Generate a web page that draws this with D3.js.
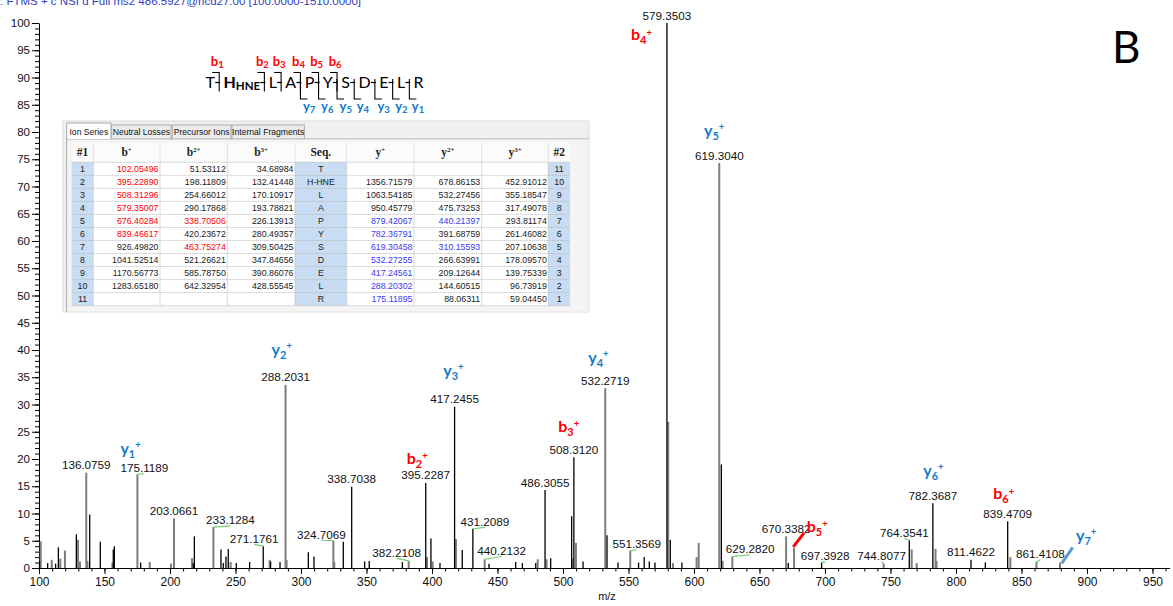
<!DOCTYPE html>
<html><head><meta charset="utf-8">
<script src="https://cdn.jsdelivr.net/npm/d3@7"></script>
<style>
html,body{margin:0;padding:0;background:#fff;}
svg{display:block;}
</style></head><body>
<svg id="chart" width="1173" height="606"></svg>
<script>
// ---------- MS/MS spectrum: centroid peaks (m/z, relative abundance) ----------
const darkMz = [100.4,106.6,112.7,114.8,128.5,138.7,146.8,156.7,157.5,177.6,217.8,218.6,238.9,240.7,242.7,244.5,250.6,260.8,271.1761,276.8,284.0,305.6,309.9,332.3,338.7038,348.6,352.1,377.4,395.2287,399.2,406.1,417.2455,423.1,431.2089,443.5,463.9,469.0,479.2,486.3055,490.6,506.6,508.3120,515.3,533.6,542.0,557.7,562.0,565.9,570.2,579.3503,581.9,590.8,620.9,672.0,697.3928,764.3541,782.3687,811.4622,822.4,839.4709];
const darkInt = [1.3,0.9,0.8,3.8,6.2,9.8,4.8,3.4,4.0,1.0,0.9,5.8,3.4,0.9,2.1,3.5,0.9,1.1,4.0,1.2,1.1,2.9,2.1,4.8,14.9,1.2,1.3,1.1,15.6,5.4,0.9,29.6,3.3,7.2,0.8,1.1,0.9,0.9,14.3,1.8,9.5,20.3,1.2,6.0,1.0,1.0,2.0,1.2,1.0,100,5.2,1.0,19.0,0.9,1.0,5.1,11.9,1.5,1.0,8.6];
const greyMz = [101.3,109.7,116.3,119.8,129.8,131.3,136.0759,137.0,156.0,175.1189,184.5,200.8,203.0661,216.8,233.1284,246.3,276.1,288.2031,289.0,324.7069,325.4,382.2108,396.2,400.5,418.3,440.2132,480.7,487.5,507.4,509.9,532.2719,551.3569,580.3,584.0,602.0,603.6,619.3040,621.9,629.2820,670.3382,676.4028,744.8077,766.2,770.0,784.4,785.2,841.5,861.4108,879.4207];
const greyInt = [4.9,1.5,1.7,3.2,5.2,1.2,17.5,1.3,1.0,17.2,1.1,0.8,9.1,1.8,7.5,1.1,1.5,33.6,1.5,5.0,1.1,1.3,2.0,1.2,5.3,1.6,1.6,1.6,1.8,4.6,33.0,3.2,26.8,0.9,2.0,4.6,74.3,1.3,2.1,5.8,3.7,0.8,3.4,0.9,3.5,1.3,2.0,1.1,1.0];

// peaks carrying an m/z label
const labelledMz = [136.0759,175.1189,203.0661,233.1284,271.1761,288.2031,324.7069,338.7038,382.2108,395.2287,417.2455,431.2089,440.2132,486.3055,508.3120,532.2719,551.3569,579.3503,619.3040,629.2820,670.3382,697.3928,744.8077,764.3541,782.3687,811.4622,839.4709,861.4108];

// fragment-ion assignments
const ionKind   = ['y','y','b','y','b','y','b','y','b','y','b','y'];
const ionNumber = [1,2,2,3,3,4,4,5,5,6,6,7];
const ionMz     = [175.1189,288.2031,395.2287,417.2455,508.3120,532.2719,579.3503,619.3040,676.4028,782.3687,839.4709,879.4207];

// axis ticks
const xMajorTicks = d3.range(100, 951, 50);
const xMinorTicks = d3.range(100, 961, 10);
const yMajorTicks = d3.range(0, 101, 5);
const yMinorTicks = d3.range(0, 101, 1);

// peptide sequence and observed cleavages
const residues = ['T','H','L','A','P','Y','S','D','E','L','R'];
const modSite = 1, modName = 'HNE';
const bSeen = [1,2,3,4,5,6];
const ySeen = [7,6,5,4,3,2,1];

// fragment table
const rowNo     = ['1','2','3','4','5','6','7','8','9','10','11'];
const colBplus  = ['102.05496','395.22890','508.31296','579.35007','676.40284','839.46617','926.49820','1041.52514','1170.56773','1283.65180',''];
const colB2plus = ['51.53112','198.11809','254.66012','290.17868','338.70506','420.23672','463.75274','521.26621','585.78750','642.32954',''];
const colB3plus = ['34.68984','132.41448','170.10917','193.78821','226.13913','280.49357','309.50425','347.84656','390.86076','428.55545',''];
const colSeq    = ['T','H-HNE','L','A','P','Y','S','D','E','L','R'];
const colYplus  = ['','1356.71579','1063.54185','950.45779','879.42067','782.36791','619.30458','532.27255','417.24561','288.20302','175.11895'];
const colY2plus = ['','678.86153','532.27456','475.73253','440.21397','391.68759','310.15593','266.63991','209.12644','144.60515','88.06311'];
const colY3plus = ['','452.91012','355.18547','317.49078','293.81174','261.46082','207.10638','178.09570','139.75339','96.73919','59.04450'];
const rowNo2    = ['11','10','9','8','7','6','5','4','3','2','1'];
const hitBplus  = [1,2,3,4,5,6];
const hitB2plus = [5,7];
const hitYplus  = [5,6,7,8,9,10,11];
const hitY2plus = [5,7];

// ---------- layout ----------
const RED = '#ff0000', BLUE = '#1479cc', LEAD = '#6fcf6f';
const svg = d3.select('#chart');
const x = d3.scaleLinear().domain([100, 963]).range([39, 1169.5]);
const y = d3.scaleLinear().domain([0, 100]).range([568, 23]);
const sans = '"Liberation Sans", Arial, sans-serif';

// label nudges (px) for labels pushed aside, with leader lines
const labelShift = {
  '175.1189':[7,-2], '233.1284':[17,-2.7], '271.1761':[-9,-3.4], '324.7069':[-12,-2],
  '382.2108':[-12,-4], '431.2089':[12,-2.8], '440.2132':[17,-4.3], '551.3569':[6.5,-2.3],
  '629.2820':[17.7,-3.3], '697.3928':[3.6,-2.5], '744.8077':[-2,-3.6], '764.3541':[-5,-3.5],
  '861.4108':[4,-3.7]
};
// ion tag placement (left x offset, baseline offset from peak top)
const tagShift = {
  b4:[-36,17], y5:[-15.3,-27], y2:[-14,-29.5], y1:[-17,-20], y3:[-11.3,-30.4], b2:[-19,-19.4],
  b3:[-15.6,-25.6], y4:[-17,-25.3], b5:[12.6,-16.3], y6:[-9.6,-27], b6:[-14.4,-21.7], y7:[16,-21.7]
};

// title line
svg.append('text').attr('x', -7).attr('y', 4.5).attr('font-family', sans).attr('font-size', 11.5)
  .attr('fill', '#3041c0').text('F: FTMS + c NSI d Full ms2 486.5927@hcd27.00 [100.0000-1510.0000]');

// panel letter
svg.append('text').attr('x', 1112).attr('y', 63).attr('font-family', 'Lato').attr('font-size', 44)
  .attr('fill', '#000').text('B');

// ---------- axes ----------
const gx = svg.append('g').attr('transform', `translate(0,${y(0)})`);
gx.append('g').call(d3.axisBottom(x).tickValues(xMinorTicks).tickSize(3.5).tickSizeOuter(0).tickFormat(''))
  .call(g => g.select('.domain').remove());
gx.append('g').call(d3.axisBottom(x).tickValues(xMajorTicks).tickSize(6).tickSizeOuter(0).tickPadding(3).tickFormat(d3.format('d')));
gx.selectAll('text').attr('font-family', sans).attr('font-size', 12).attr('fill', '#111');
gx.selectAll('line,path').attr('stroke', '#000');

const gy = svg.append('g').attr('transform', `translate(${x(100)},0)`);
gy.append('g').call(d3.axisLeft(y).tickValues(yMinorTicks).tickSize(4).tickSizeOuter(0).tickFormat(''))
  .call(g => g.select('.domain').remove());
gy.append('g').call(d3.axisLeft(y).tickValues(yMajorTicks).tickSize(7).tickSizeOuter(0).tickPadding(2).tickFormat(d3.format('d')));
gy.selectAll('text').attr('font-family', sans).attr('font-size', 11.5).attr('fill', '#111');
gy.selectAll('line,path').attr('stroke', '#000');

svg.append('text').attr('x', 607).attr('y', 600).attr('text-anchor', 'middle')
  .attr('font-family', sans).attr('font-size', 11).attr('fill', '#111').text('m/z');

// ---------- peaks ----------
const greyPeaks = greyMz.map((m, i) => ({mz: m, int: greyInt[i]}));
const darkPeaks = darkMz.map((m, i) => ({mz: m, int: darkInt[i]}));
const allPeaks = greyPeaks.concat(darkPeaks);
svg.append('g').selectAll('line').data(greyPeaks).join('line')
  .attr('x1', d => x(d.mz)).attr('x2', d => x(d.mz)).attr('y1', y(0)).attr('y2', d => y(d.int))
  .attr('stroke', '#7d7d7d').attr('stroke-width', 2);
svg.append('g').selectAll('line').data(darkPeaks).join('line')
  .attr('x1', d => x(d.mz)).attr('x2', d => x(d.mz)).attr('y1', y(0)).attr('y2', d => y(d.int))
  .attr('stroke', '#000').attr('stroke-width', 1.3);

const peakAt = m => allPeaks.find(p => Math.abs(p.mz - m) < 1e-6);

// m/z labels
const gl = svg.append('g');
labelledMz.forEach(m => {
  const p = peakAt(m);
  const px = x(m), top = y(p.int);
  const key = m.toFixed(4);
  const s = labelShift[key] || [0, -3.5];
  const lx = px + s[0], ly = top + s[1];
  if (labelShift[key]) {
    gl.append('line').attr('x1', px).attr('y1', top).attr('x2', lx).attr('y2', ly + 1.5)
      .attr('stroke', LEAD).attr('stroke-width', 1.2);
  }
  gl.append('text').attr('x', lx).attr('y', ly).attr('text-anchor', 'middle')
    .attr('font-family', sans).attr('font-size', 11.7).attr('fill', '#111').text(key);
});

// ion tags
const gt = svg.append('g').attr('font-family', 'Lato').attr('font-weight', 'bold');
ionMz.forEach((m, i) => {
  const p = peakAt(m);
  const px = x(m), top = y(p.int);
  const k = ionKind[i], n = ionNumber[i];
  const s = tagShift[k + n];
  const col = k === 'b' ? RED : BLUE;
  const t = gt.append('text').attr('x', px + s[0]).attr('y', top + s[1]).attr('fill', col);
  t.append('tspan').attr('font-size', 16).text(k);
  t.append('tspan').attr('font-size', 11).attr('dy', 4).text(n);
  t.append('tspan').attr('font-size', 9.5).attr('dy', k === 'b' ? -8.5 : -10).text('+');
  if (k + n === 'b5') {
    gt.append('line').attr('x1', px - 0.8).attr('y1', top - 1).attr('x2', px + 10).attr('y2', top - 15)
      .attr('stroke', RED).attr('stroke-width', 3);
  }
  if (k + n === 'y7') {
    gt.append('line').attr('x1', px + 1.7).attr('y1', top + 0.8).attr('x2', px + 12.7).attr('y2', top - 15.2)
      .attr('stroke', '#5b9bd5').attr('stroke-width', 3);
  }
});

// ---------- peptide sequence with cleavage marks ----------
const gs = svg.append('g').attr('font-family', 'Lato');
const seqBase = 88, gap = 8.5;
let cur = 205.5;
const cuts = [];
residues.forEach((r, i) => {
  const t = gs.append('text').attr('x', cur).attr('y', seqBase).attr('font-size', 16).attr('fill', '#000');
  if (i === modSite) {
    t.append('tspan').attr('font-weight', 'bold').text(r);
    t.append('tspan').attr('font-weight', 'bold').attr('font-size', 11.5).attr('dy', 2).text(modName);
  } else t.text(r);
  cur += t.node().getComputedTextLength();
  if (i < residues.length - 1) { cuts.push(cur + gap / 2); cur += gap; }
});
cuts.forEach(c => gs.append('line').attr('x1', c - 4).attr('x2', c + 1)
  .attr('y1', seqBase - 5.5).attr('y2', seqBase - 5.5).attr('stroke', '#000').attr('stroke-width', 1.2));
bSeen.forEach(n => {
  const c = cuts[n - 1];
  gs.append('path').attr('d', `M${c - 7},72.5H${c}V91.5`).attr('fill', 'none').attr('stroke', '#000').attr('stroke-width', 1.1);
  const t = gs.append('text').attr('x', c + 4.5).attr('y', 66).attr('text-anchor', 'end')
    .attr('font-weight', 'bold').attr('fill', RED);
  t.append('tspan').attr('font-size', 13).text('b');
  t.append('tspan').attr('font-size', 9.5).attr('dy', 2).text(n);
});
ySeen.forEach(n => {
  const c = cuts[residues.length - n - 1];
  gs.append('path').attr('d', `M${c},79V99H${c + 7}`).attr('fill', 'none').attr('stroke', '#000').attr('stroke-width', 1.1);
  const t = gs.append('text').attr('x', c + 2.5).attr('y', 110.5)
    .attr('font-weight', 'bold').attr('fill', BLUE);
  t.append('tspan').attr('font-size', 13).text('y');
  t.append('tspan').attr('font-size', 9.5).attr('dy', 2).text(n);
});

// ---------- fragment ion table ----------
const gtab = svg.append('g');
gtab.append('rect').attr('x', 63).attr('y', 121).attr('width', 526).attr('height', 191)
  .attr('fill', '#f0f0f0').attr('stroke', '#dcdcdc');
// tabs
const tabs = [['Ion Series', 66.7, 111, true], ['Neutral Losses', 111.7, 171], ['Precursor Ions', 172.3, 231], ['Internal Fragments', 232, 304.3]];
gtab.append('path').attr('d', 'M66.7,312V139H589').attr('fill', 'none').attr('stroke', '#a9a9a9');
tabs.forEach(([lab, a, b, sel]) => {
  gtab.append('rect').attr('x', a).attr('y', sel ? 123 : 125).attr('width', b - a).attr('height', sel ? 16.5 : 14)
    .attr('fill', sel ? '#ffffff' : '#ececec').attr('stroke', '#a9a9a9');
  gtab.append('text').attr('x', (a + b) / 2).attr('y', 134.5).attr('text-anchor', 'middle')
    .attr('font-family', sans).attr('font-size', 8.6).attr('fill', '#111').text(lab);
});
gtab.append('rect').attr('x', 67.5).attr('y', 139.5).attr('width', 521).attr('height', 172).attr('fill', '#f4f4f4');

const colEdge = [71.7, 93.3, 160, 227.3, 295, 346.7, 414, 481.7, 548.3, 570];
const headTop = 143.3, rowTop = 162.3, rowH = 13.03, nRows = rowNo.length;
const tableBottom = rowTop + rowH * nRows;
const blueCols = [0, 4, 8];
// header
gtab.append('rect').attr('x', colEdge[0]).attr('y', headTop).attr('width', colEdge[9] - colEdge[0]).attr('height', rowTop - headTop)
  .attr('fill', '#fbfbfb');
// body cells
for (let c = 0; c < 9; c++) {
  gtab.append('rect').attr('x', colEdge[c]).attr('y', rowTop).attr('width', colEdge[c + 1] - colEdge[c]).attr('height', rowH * nRows)
    .attr('fill', blueCols.includes(c) ? '#c8dcf3' : '#ffffff');
}
for (let c = 1; c < 9; c++) {
  gtab.append('line').attr('x1', colEdge[c]).attr('x2', colEdge[c]).attr('y1', headTop).attr('y2', rowTop)
    .attr('stroke', '#e2e2e2');
  gtab.append('line').attr('x1', colEdge[c]).attr('x2', colEdge[c]).attr('y1', rowTop).attr('y2', tableBottom)
    .attr('stroke', '#b8b8b8').attr('stroke-dasharray', '1,1');
}
for (let r = 0; r <= nRows; r++) {
  gtab.append('line').attr('x1', colEdge[0]).attr('x2', colEdge[9]).attr('y1', rowTop + r * rowH).attr('y2', rowTop + r * rowH)
    .attr('stroke', '#b8b8b8').attr('stroke-dasharray', '1,1');
}
// header labels
const heads = [['#1', ''], ['b', '+'], ['b', '2+'], ['b', '3+'], ['Seq.', ''], ['y', '+'], ['y', '2+'], ['y', '3+'], ['#2', '']];
heads.forEach(([main, sup], c) => {
  const t = gtab.append('text').attr('x', (colEdge[c] + colEdge[c + 1]) / 2).attr('y', 156).attr('text-anchor', 'middle')
    .attr('font-family', '"Liberation Serif", "Times New Roman", serif').attr('font-weight', 'bold').attr('font-size', 11.5).attr('fill', '#222');
  t.append('tspan').text(main);
  if (sup) t.append('tspan').attr('font-size', 7).attr('dy', -4).text(sup);
});
// body values
const cols = [rowNo, colBplus, colB2plus, colB3plus, colSeq, colYplus, colY2plus, colY3plus, rowNo2];
const hits = {1: [hitBplus, RED], 2: [hitB2plus, RED], 5: [hitYplus, '#3a3af5'], 6: [hitY2plus, '#3a3af5']};
cols.forEach((vals, c) => {
  const centred = blueCols.includes(c);
  vals.forEach((v, r) => {
    if (!v) return;
    let fill = '#1a1a1a';
    if (hits[c] && hits[c][0].includes(r + 1)) fill = hits[c][1];
    gtab.append('text')
      .attr('x', centred ? (colEdge[c] + colEdge[c + 1]) / 2 : colEdge[c + 1] - 1.5)
      .attr('y', rowTop + r * rowH + 9.6)
      .attr('text-anchor', centred ? 'middle' : 'end')
      .attr('font-family', sans).attr('font-size', 8.8).attr('fill', fill).text(v);
  });
});
</script>
</body></html>
